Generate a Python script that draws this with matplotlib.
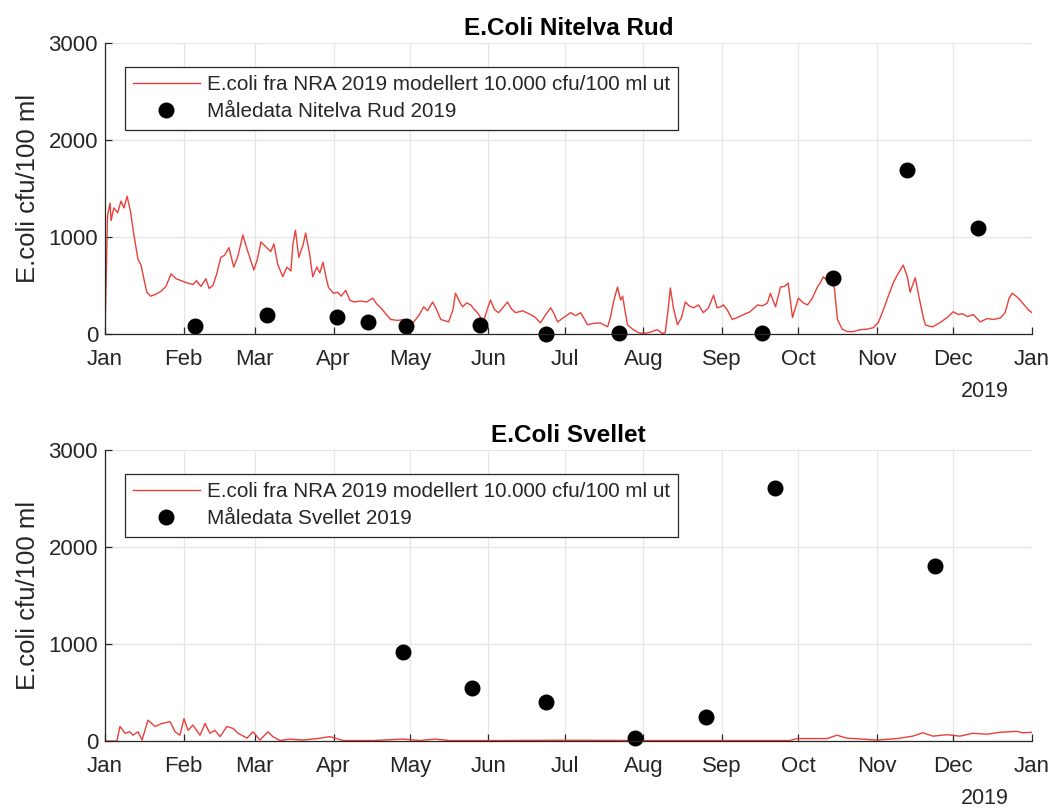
"""E.coli in Nitelva (Rud) and Svellet: modelled NRA 2019 series vs. measurements."""

import numpy as np
import matplotlib
matplotlib.use("Agg")
import matplotlib.pyplot as plt
import matplotlib.dates as mdates

YEAR_START = np.datetime64("2019-01-01")
YEAR_END = np.datetime64("2020-01-01")

MODEL_LABEL = "E.coli fra NRA 2019 modellert 10.000 cfu/100 ml ut"

# Nitelva Rud, modelled series (day of year, cfu/100 ml)
rud_days = [
    0, 1, 2, 2.4, 3.5, 5, 6.3, 7.5, 8.7, 10, 11.4, 13, 14.2, 15.3, 16.5, 18, 20, 22, 24, 26,
    28, 30, 32, 34.6, 36, 37.8, 39.7, 41, 42.5, 44, 45.6, 47, 48.8, 50.7, 52.3, 54.3, 56, 58.6,
    60, 61.4, 63.3, 65.3, 66.5, 68, 70, 71.6, 73.2, 74, 75, 76.3, 78, 79, 80.6, 81.8, 83.4,
    84.6, 85.8, 87, 88, 90, 91.7, 93, 94.8, 96.4, 98, 100.7, 103, 105.4, 107, 108.6, 110.5,
    112.5, 115.3, 117.6, 119.6, 121.6, 123.5, 125.5, 127, 129, 130.6, 132.2, 135.3, 137, 138,
    139.7, 140.8, 142.4, 144, 145.5, 146.7, 149, 150.7, 151.8, 153.4, 155, 156.6, 158.5, 160,
    161.7, 164.4, 167.6, 169.5, 171.5, 173.5, 175.5, 176.6, 178.2, 180.6, 183.3, 185.3, 187.3,
    188.8, 190, 192.3, 195, 196.7, 197.9, 199, 200.2, 201.8, 203, 203.8, 205.7, 208, 210, 212,
    214.8, 217.4, 219.5, 220.6, 221.8, 222.6, 223.8, 225.4, 227, 228.5, 230, 231.7, 233.7,
    235.6, 237.6, 239.6, 241, 242.3, 243.5, 245, 247, 249, 251.4, 254, 256.9, 258.9, 260.8,
    262, 264, 266, 267.5, 269, 270.7, 272.2, 273, 275, 276.6, 278.5, 280.5, 281.7, 282.8,
    284.4, 286, 287.2, 288.4, 290.3, 292.3, 294.7, 297.4, 300, 302.5, 304.5, 306.5, 308.4,
    310.4, 312, 314.3, 315.9, 317, 319, 320.6, 322.2, 323, 324.5, 326, 328.9, 331.6, 334, 336,
    337.5, 339.5, 341.9, 344.6, 347.4, 349.7, 352.5, 354.4, 356, 357.2, 358.8, 360.3, 361.9,
    363.5, 365,
]
rud_model = [
    0, 1220, 1350, 1170, 1300, 1250, 1370, 1300, 1420, 1270, 1020, 770, 710, 570, 430, 390, 410,
    440, 490, 620, 570, 550, 530, 510, 550, 490, 570, 470, 500, 620, 790, 810, 890, 690, 800,
    1020, 870, 660, 770, 950, 900, 850, 930, 720, 590, 690, 650, 930, 1070, 790, 920, 1040, 820,
    590, 690, 630, 740, 590, 480, 420, 430, 390, 450, 350, 330, 340, 330, 370, 310, 270, 210,
    150, 140, 150, 115, 125, 190, 280, 240, 330, 250, 150, 125, 250, 420, 330, 280, 320, 300,
    250, 220, 125, 270, 350, 250, 220, 270, 330, 260, 220, 240, 200, 170, 115, 200, 270, 220,
    125, 170, 220, 190, 220, 150, 95, 110, 115, 90, 75, 170, 330, 485, 350, 390, 95, 45, 15, 5,
    20, 45, 5, 15, 270, 475, 270, 95, 170, 330, 290, 270, 300, 220, 270, 400, 270, 280, 300, 250,
    150, 170, 200, 230, 300, 290, 320, 420, 280, 485, 490, 525, 170, 300, 370, 320, 300, 370,
    485, 530, 590, 550, 530, 475, 150, 50, 25, 25, 45, 50, 65, 120, 250, 390, 530, 610, 710, 590,
    430, 580, 370, 170, 95, 80, 75, 120, 170, 230, 200, 210, 180, 200, 125, 160, 150, 165, 220,
    370, 420, 390, 350, 300, 250, 220,
]

# Nitelva Rud, measurements
rud_sample_days = [35.4, 63.7, 91.5, 103.7, 118.6, 147.6, 173.5, 202.4, 258.5, 286.7, 315.6, 343.8]
rud_measured = [78, 199, 171, 120, 78, 89, 5, 10, 10, 577, 1694, 1093]

# Svellet, modelled series
svellet_days = [
    0, 4.7, 5.9, 7.9, 9.8, 11, 13, 14.6, 16.9, 19.7, 22.4, 25.6, 27.6, 29.5, 31.1, 32.7, 34.6,
    37.4, 39.4, 41.3, 43.3, 45.3, 48, 50.4, 52.4, 55.9, 58.3, 61, 64.2, 66.1, 68.9, 72.8, 78,
    83.5, 88.6, 93.7, 105.5, 117.3, 124, 130, 135.8, 155.5, 179, 214.6, 234, 269.7, 272.4,
    284.3, 288.2, 292, 304, 311.8, 318, 322, 326, 331.5, 336.6, 341.7, 347.2, 352.4, 359,
    361.4, 365,
]
svellet_model = [
    0, 0, 150, 80, 95, 60, 95, 10, 215, 150, 180, 200, 95, 60, 230, 110, 165, 60, 180, 80, 110,
    45, 150, 130, 80, 30, 95, 10, 95, 45, 5, 20, 10, 25, 45, 5, 5, 20, 5, 20, 5, 5, 8, 5, 5, 5,
    25, 25, 60, 30, 10, 25, 50, 85, 50, 65, 50, 80, 70, 90, 100, 85, 90,
]

# Svellet, measurements
svellet_sample_days = [117.4, 144.6, 173.6, 208.7, 236.6, 263.7, 326.8]
svellet_measured = [914, 543, 405, 28, 244, 2605, 1804]

plt.rcParams["font.family"] = ["Liberation Sans", "DejaVu Sans"]
AXIS_GREY = "#262626"


def _to_dates(days):
    return mdates.date2num(YEAR_START) + np.asarray(days, dtype=float)


def _panel(ax, title, model_days, model_vals, meas_days, meas_vals, station):
    ax.plot(_to_dates(model_days), model_vals, color="#e8403a", lw=1.0, label=MODEL_LABEL)
    ax.plot(_to_dates(meas_days), meas_vals, "o", color="black", ms=10.5,
            label=f"Måledata {station} 2019", clip_on=False)

    ax.set_xlim(mdates.date2num(YEAR_START), mdates.date2num(YEAR_END))
    ax.set_ylim(0, 3000)
    ax.set_yticks([0, 1000, 2000, 3000])
    ax.xaxis.set_major_locator(mdates.MonthLocator())
    ax.xaxis.set_major_formatter(mdates.DateFormatter("%b"))

    ax.grid(True, color="#e6e6e6", lw=0.9)
    ax.set_axisbelow(True)
    for side in ("top", "right"):
        ax.spines[side].set_visible(False)
    for side in ("left", "bottom"):
        ax.spines[side].set_color(AXIS_GREY)
        ax.spines[side].set_linewidth(0.9)
    ax.tick_params(direction="in", length=5, width=0.9, colors=AXIS_GREY, labelsize=16)
    ax.tick_params(axis="x", pad=11)
    ax.tick_params(axis="y", pad=5)

    ax.set_ylabel("E.coli cfu/100 ml", fontsize=18.5, color=AXIS_GREY, labelpad=6)
    ax.set_title(title, fontsize=17.5, fontweight="bold", pad=6)
    # year marker under the last month ticks
    ax.text(0.949, -0.163, "2019", transform=ax.transAxes, ha="center", va="top",
            fontsize=15.5, color=AXIS_GREY)

    leg = ax.legend(loc="upper left", bbox_to_anchor=(0.0216, 0.918), borderaxespad=0,
                    fontsize=14.9, fancybox=False, framealpha=1, edgecolor=AXIS_GREY,
                    handlelength=3.2, handletextpad=0.35, borderpad=0.4, labelspacing=0.4)
    leg.get_frame().set_linewidth(0.9)
    for txt in leg.get_texts():
        txt.set_color(AXIS_GREY)


def main():
    fig = plt.figure(figsize=(10.52, 8.08), dpi=100)
    ax_top = fig.add_axes([0.0998, 0.5866, 0.8812, 0.3602])
    ax_bot = fig.add_axes([0.0998, 0.0829, 0.8812, 0.3602])

    _panel(ax_top, "E.Coli Nitelva Rud", rud_days, rud_model,
           rud_sample_days, rud_measured, "Nitelva Rud")
    _panel(ax_bot, "E.Coli Svellet", svellet_days, svellet_model,
           svellet_sample_days, svellet_measured, "Svellet")

    fig.savefig("out.png", dpi=100)
    plt.close(fig)


if __name__ == "__main__":
    main()
